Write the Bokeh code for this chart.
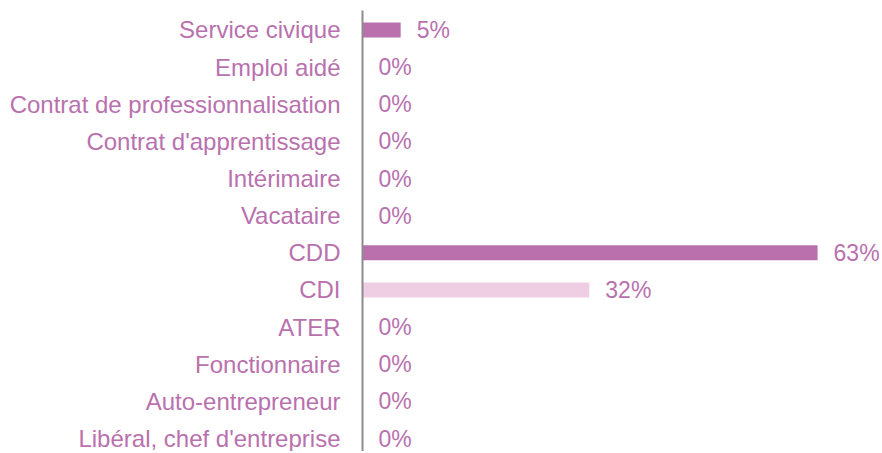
from bokeh.plotting import figure
from bokeh.models import Range1d, LinearAxis, FixedTicker, ColumnDataSource
from bokeh.embed import file_html
from bokeh.resources import INLINE
from bokeh.core.properties import value

# Data (top to bottom)
categories = ["Service civique", "Emploi aidé", "Contrat de professionnalisation",
              "Contrat d'apprentissage", "Intérimaire", "Vacataire", "CDD", "CDI",
              "ATER", "Fonctionnaire", "Auto-entrepreneur", "Libéral, chef d'entreprise"]
values = [5.3, 0, 0, 0, 0, 0, 63.2, 31.5, 0, 0, 0, 0]

DARK = "#b970ad"
LIGHT = "#efcde2"
TEXT = "#b971ae"
FONT = "Liberation Sans"

ypos = list(range(len(categories)))
colors = [LIGHT if c == "CDI" else DARK for c in categories]
labels = [f"{round(v)}%" for v in values]

src = ColumnDataSource(dict(y=ypos, v=values, color=colors, label=labels))

p = figure(width=880, height=451, output_backend="svg", toolbar_location=None,
           x_range=Range1d(0, 71.94), y_range=Range1d(11.35, -0.525),
           x_axis_location=None, y_axis_location=None,
           min_border_left=362, min_border_right=0, min_border_top=10, min_border_bottom=0)
p.outline_line_color = None
p.xgrid.visible = False
p.ygrid.visible = False
p.background_fill_color = "white"
p.border_fill_color = "white"

p.hbar(y="y", left=0, right="v", height=0.404, color="color", line_color=None, source=src)

p.text(x="v", y="y", text="label", source=src, x_offset=16,
       text_align="left", text_baseline="middle", text_color=TEXT,
       text_font=value(FONT), text_font_size="23px")

yaxis = LinearAxis(ticker=FixedTicker(ticks=ypos),
                   major_label_overrides={i: c for i, c in zip(ypos, categories)})
yaxis.axis_line_color = "#8c8c8c"
yaxis.axis_line_width = 2
yaxis.major_tick_line_color = None
yaxis.minor_tick_line_color = None
yaxis.major_tick_out = 0
yaxis.major_tick_in = 0
yaxis.minor_tick_out = 0
yaxis.major_label_standoff = 22
yaxis.major_label_text_font = FONT
yaxis.major_label_text_font_size = "24px"
yaxis.major_label_text_color = TEXT
p.add_layout(yaxis, "left")

open("out.html", "w").write(file_html(p, INLINE))
